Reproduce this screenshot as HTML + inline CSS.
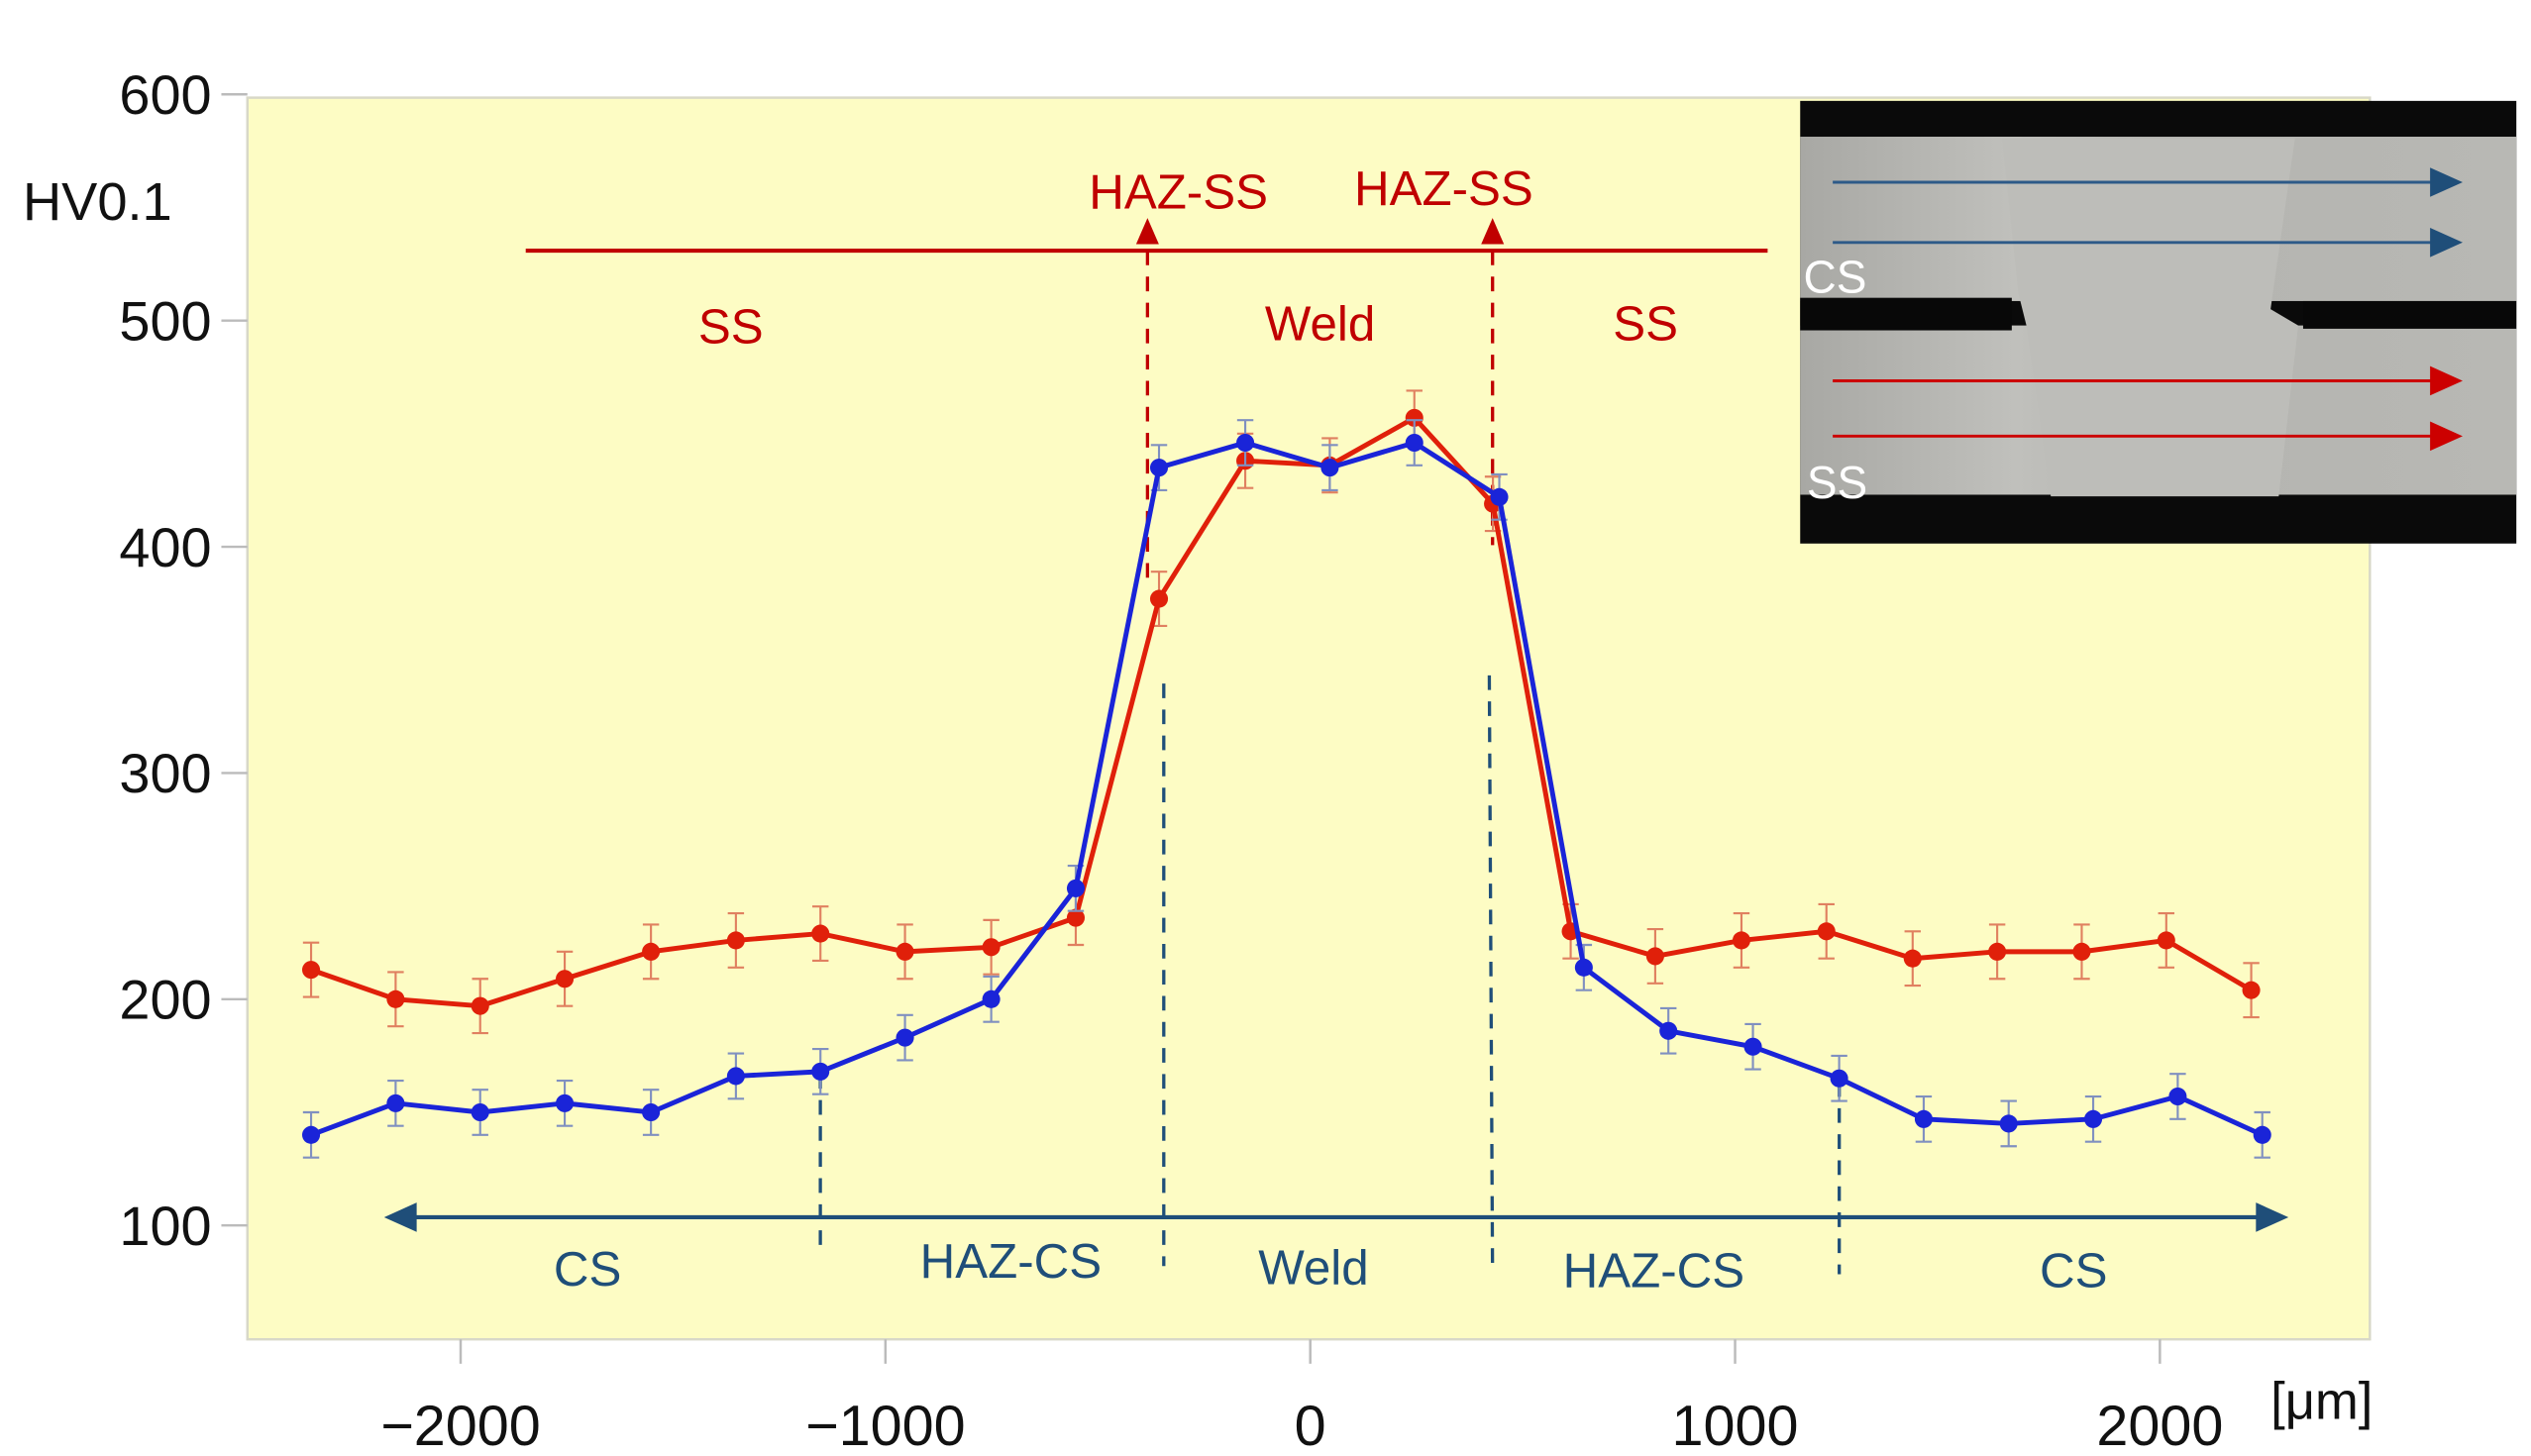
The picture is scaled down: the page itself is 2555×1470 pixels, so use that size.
<!DOCTYPE html>
<html><head><meta charset="utf-8"><style>
html,body{margin:0;padding:0;background:#fff;}
svg{display:block;font-family:"Liberation Sans",sans-serif;}
</style></head><body>
<svg id="chart" width="2555" height="1470" viewBox="0 0 1555 894.7" preserveAspectRatio="none" xmlns="http://www.w3.org/2000/svg">
<rect x="152" y="60" width="1304" height="763" fill="#fdfcc4" stroke="#d8d8c8" stroke-width="1.5"/>
<g id="yticks"></g>
<g id="xticks"></g>
<text x="14" y="135" font-size="33" fill="#111">HV0.1</text>
<text x="1395" y="872" font-size="32" fill="#111">[μm]</text>

<!-- red annotations -->
<g fill="#c00000" stroke="none">
<line x1="323" y1="154" x2="1086" y2="154" stroke="#c00000" stroke-width="2.5"/>
<polygon points="698,150 712,150 705,134"/><polygon points="910,150 924,150 917,134"/>
<line x1="705" y1="154" x2="705" y2="362" stroke="#c00000" stroke-width="2" stroke-dasharray="9,7"/>
<line x1="917" y1="154" x2="917" y2="335" stroke="#c00000" stroke-width="2" stroke-dasharray="9,7"/>
<text x="724" y="128" font-size="30" text-anchor="middle">HAZ-SS</text>
<text x="887" y="126" font-size="30" text-anchor="middle">HAZ-SS</text>
<text x="449" y="211" font-size="30" text-anchor="middle">SS</text>
<text x="811" y="209" font-size="30" text-anchor="middle">Weld</text>
<text x="1011" y="209" font-size="30" text-anchor="middle">SS</text>
</g>
<!-- blue annotations -->
<g fill="#1f4e79">
<line x1="250" y1="748" x2="1392" y2="748" stroke="#1f4e79" stroke-width="2.5"/>
<polygon points="236,748 256,739 256,757"/><polygon points="1406,748 1386,739 1386,757"/>
<g stroke="#1f4e79" stroke-width="2" stroke-dasharray="9,7">
<line x1="504" y1="660" x2="504" y2="772"/><line x1="715" y1="420" x2="715" y2="778"/>
<line x1="915" y1="415" x2="917" y2="783"/><line x1="1130" y1="665" x2="1130" y2="783"/></g>
<text x="361" y="790" font-size="30" text-anchor="middle">CS</text>
<text x="621" y="785" font-size="30" text-anchor="middle">HAZ-CS</text>
<text x="807" y="789" font-size="30" text-anchor="middle">Weld</text>
<text x="1016" y="791" font-size="30" text-anchor="middle">HAZ-CS</text>
<text x="1274" y="791" font-size="30" text-anchor="middle">CS</text>
</g>
<g id="series"></g>
<!-- inset micrograph -->
<g>
<defs><linearGradient id="plate" x1="0" y1="0" x2="1" y2="0">
<stop offset="0" stop-color="#a8a8a4"/><stop offset="0.3" stop-color="#c0c0bc"/><stop offset="0.5" stop-color="#b4b4b0"/><stop offset="1" stop-color="#b8b8b4"/></linearGradient></defs>
<rect x="1106" y="62" width="440" height="272" fill="#0a0a0a"/>
<rect x="1106" y="84" width="440" height="101" fill="url(#plate)"/>
<rect x="1106" y="200" width="440" height="104" fill="url(#plate)"/>
<polygon points="1230,85 1410,85 1395,190 1412,200 1400,305 1260,305 1245,200 1240,180" fill="#bdbdb9"/>
<rect x="1106" y="183" width="130" height="20" fill="#080808"/>
<rect x="1415" y="185" width="131" height="17" fill="#080808"/>
<g stroke="#2d5a88" stroke-width="1.8" fill="#1f4e79"><line x1="1126" y1="112" x2="1495" y2="112"/><polygon points="1493,103 1513,112 1493,121" stroke="none"/>
<line x1="1126" y1="149" x2="1495" y2="149"/><polygon points="1493,140 1513,149 1493,158" stroke="none"/></g>
<g stroke="#cc0000" stroke-width="1.8" fill="#cc0000"><line x1="1126" y1="234" x2="1495" y2="234"/><polygon points="1493,225 1513,234 1493,243" stroke="none"/>
<line x1="1126" y1="268" x2="1495" y2="268"/><polygon points="1493,259 1513,268 1493,277" stroke="none"/></g>
<text x="1108" y="180" font-size="28" fill="#fff">CS</text>
<text x="1110" y="306" font-size="28" fill="#fff">SS</text>
</g>
<script>
const positionsRed=[-2352,-2153,-1954,-1755,-1552,-1352,-1153,-954,-751,-552,-356,-153,46,245,430,613,812,1015,1215,1418,1617,1816,2015,2215];
const valuesRed=[213,200,197,209,221,226,229,221,223,236,377,438,436,457,419,230,219,226,230,218,221,221,226,204];
const positionsBlue=[-2352,-2153,-1954,-1755,-1552,-1352,-1153,-954,-751,-552,-356,-153,46,245,445,644,843,1042,1245,1444,1644,1843,2042,2241];
const valuesBlue=[140,154,150,154,150,166,168,183,200,249,435,446,435,446,422,214,186,179,165,147,145,147,157,140];
const errRed=12, errBlue=10;
const yTicks=[100,200,300,400,500,600];
const xTicks=[-2000,-1000,0,1000,2000];
const xTickLabels=["\u22122000","\u22121000","0","1000","2000"];
const NS="http://www.w3.org/2000/svg";
function X(v){return 805+v*0.261;}
function Y(v){return 58+(600-v)*1.39;}
function mk(t,a,p){const e=document.createElementNS(NS,t);for(const k in a)e.setAttribute(k,a[k]);p.appendChild(e);return e;}
const yg=document.getElementById('yticks');
yTicks.forEach(v=>{const l=mk('line',{x1:136,x2:152,y1:Y(v),y2:Y(v),stroke:'#bbb','stroke-width':1.5},yg);


const t=mk('text',{x:130,y:Y(v)+12,'font-size':34,'text-anchor':'end',fill:'#111'},yg);t.textContent=v;

});
const xg=document.getElementById('xticks');
xTicks.forEach((v,i)=>{const l=mk('line',{x1:X(v),x2:X(v),y1:823,y2:838,stroke:'#bbb','stroke-width':1.5},xg);


const t=mk('text',{x:X(v),y:888,'font-size':35,'text-anchor':'middle',fill:'#111'},xg);t.textContent=xTickLabels[i];

});
const sg=document.getElementById('series');
function draw(xs,ys,err,col,ecol,name){const g=mk('g',{},sg);


xs.forEach((x,i)=>{const cx=X(x),y1=Y(ys[i]+err),y2=Y(ys[i]-err);
mk('line',{x1:cx,x2:cx,y1:y1,y2:y2,stroke:ecol,'stroke-width':1.3},g);
mk('line',{x1:cx-5,x2:cx+5,y1:y1,y2:y1,stroke:ecol,'stroke-width':1.3},g);
mk('line',{x1:cx-5,x2:cx+5,y1:y2,y2:y2,stroke:ecol,'stroke-width':1.3},g);});
mk('polyline',{points:xs.map((x,i)=>X(x)+','+Y(ys[i])).join(' '),fill:'none',stroke:col,'stroke-width':3},g);
xs.forEach((x,i)=>{const c=mk('circle',{cx:X(x),cy:Y(ys[i]),r:5.5,fill:col},g);

});}
draw(positionsRed,valuesRed,errRed,'#e0200a','#e08060','series-ss-red');
draw(positionsBlue,valuesBlue,errBlue,'#1a24d8','#8090c0','series-cs-blue');
</script>
</svg>
</body></html>
